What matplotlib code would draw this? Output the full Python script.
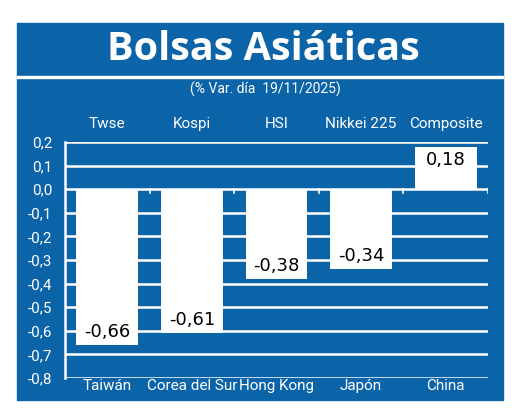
import numpy as np
import matplotlib
matplotlib.use("Agg")
from matplotlib import pyplot as plt
from matplotlib.patches import Rectangle

# data
indices = ["Twse", "Kospi", "HSI", "Nikkei 225", "Composite"]
countries = ["Taiwán", "Corea del Sur", "Hong Kong", "Japón", "China"]
variation = [-0.66, -0.61, -0.38, -0.34, 0.18]
y_ticks = [0.2, 0.1, 0.0, -0.1, -0.2, -0.3, -0.4, -0.5, -0.6, -0.7, -0.8]

blue = "#0b63a8"
narrow = ["Roboto", "DejaVu Sans"]

fig = plt.figure(figsize=(5.2, 4.17), dpi=100)
fig.patch.set_facecolor("white")

# blue panel + white separator under the title
fig.patches.append(Rectangle((17 / 520, 1 - 400 / 417), 486 / 520, 377 / 417,
                             transform=fig.transFigure, color=blue, zorder=-5))
fig.patches.append(Rectangle((17 / 520, 1 - 78 / 417), 486 / 520, 2 / 417,
                             transform=fig.transFigure, color="white", zorder=-4))

fig.text(263 / 520, 1 - 50 / 417, "Bolsas Asiáticas", color="white", fontsize=28.5,
         fontweight="bold", family="Open Sans", ha="center", va="center")
fig.text(265 / 520, 1 - 89 / 417, "(% Var. día  19/11/2025)", color="white",
         fontsize=10, family=narrow, ha="center", va="center")

ax = fig.add_axes([65 / 520, 1 - 378 / 417, 423 / 520, 236 / 417])
ax.set_zorder(2)
ax.set_facecolor(blue)
x = np.arange(len(countries))

for yv in y_ticks:
    ax.axhline(yv, color="white", lw=1.8, zorder=1)
# small marks under the zero line between categories
for b in np.arange(0.5, len(countries), 1.0):
    ax.plot([b, b], [0, -0.015], color="white", lw=1.2, zorder=1)

ax.bar(x, variation, width=0.73, color="white", zorder=2)

for xi, v in zip(x, variation):
    lbl = f"{v:.2f}".replace(".", ",")
    if v < 0:
        ax.annotate(lbl, (xi, v), xytext=(0, 3), textcoords="offset points",
                    ha="center", va="bottom", fontsize=13, color="black", zorder=3)
    else:
        ax.annotate(lbl, (xi, v), xytext=(0, -3), textcoords="offset points",
                    ha="center", va="top", fontsize=13, color="black", zorder=3)

for xi, name in zip(x, indices):
    ax.text(xi, 0.275, name, ha="center", va="center", color="white",
            fontsize=11, family=narrow)

ax.set_xlim(-0.5, len(countries) - 0.5)
ax.set_ylim(-0.8, 0.2)
ax.set_yticks(y_ticks)
ax.set_yticklabels([f"{t:.1f}".replace(".", ",") for t in y_ticks],
                   color="white", fontsize=11, family=narrow)
ax.set_xticks(x)
ax.set_xticklabels(countries, color="white", fontsize=11, family=narrow)
ax.tick_params(axis="both", length=0)
ax.tick_params(axis="y", pad=9)
ax.tick_params(axis="x", pad=1)
for side in ["top", "right", "bottom"]:
    ax.spines[side].set_visible(False)
ax.spines["left"].set_color("white")
ax.spines["left"].set_linewidth(1.8)

plt.savefig("out.png", dpi=100, facecolor="white")
